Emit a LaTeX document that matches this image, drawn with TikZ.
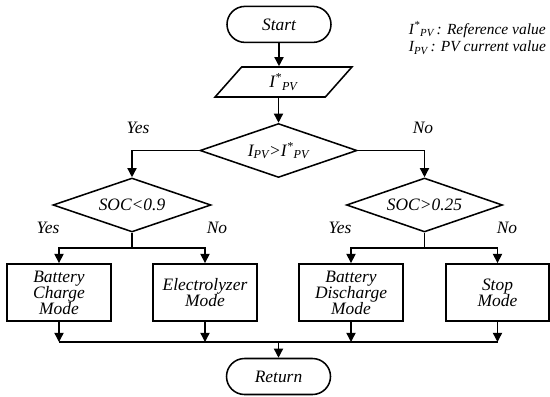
\documentclass[tikz,border=0pt]{standalone}
\usepackage{fontspec}
\setmainfont{Liberation Serif}
\usetikzlibrary{positioning,arrows.meta,shapes.geometric}
\newcommand\ipv{I\textsubscript{PV}}
\newcommand\ipvref{I\textsuperscript{*}\textsubscript{PV}}

\begin{document}
\begin{tikzpicture}[
  font=\itshape\fontsize{12.4}{11.4}\selectfont,
  term/.style={draw,line width=1.1pt,rounded corners=0.45cm,minimum width=2.6cm,minimum height=0.9cm},
  io/.style={draw,line width=1.1pt,trapezium,trapezium left angle=63.4,trapezium right angle=116.6,trapezium stretches=true,minimum width=3.425cm,minimum height=0.75cm,inner sep=1pt},
  dec/.style={draw,line width=1.1pt,diamond,aspect=3,inner sep=0pt,minimum width=#1,minimum height=1.35cm},
  dec/.default=3.95cm,
  mode/.style={draw,line width=1.3pt,minimum width=#1,minimum height=1.425cm,align=center,inner sep=1pt},
  mode/.default=2.6cm,
  wire/.style={line width=1pt},
  lab/.style={inner sep=1pt},
  >={Triangle[length=2.3mm,width=2.3mm]}]
\useasboundingbox (0,0) rectangle (13.75,9.9);
% ---- top: start, input, first test
\node[term] (start) at (6.975,9.29) {Start};
\node[io] (pv) at (7.0875,7.85) {\ipvref};
\node[dec=3.925cm] (cmp) at (6.9625,6.1375) {\ipv>\ipvref};
\node[align=left,anchor=west,font=\itshape\fontsize{11}{12.6}\selectfont] (key) at (10.1,8.95) {\ipvref\,: Reference value\\ \ipv\,: PV current value};
\draw[wire,->] (start.south) -- (start.south |- pv.north);
\draw[wire,->] (pv.south -| cmp.north) -- (cmp.north);
% ---- second tests
\node[dec] (socl) at (3.3,4.775) {SOC<0.9};
\node[dec=3.9cm] (soch) at (10.6125,4.775) {SOC>0.25};
\draw[wire,->] (cmp.west) -| (socl.north);
\draw[wire,->] (cmp.east) -| (soch.north);
\node[lab] (yes0) at (3.45,6.7) {Yes};
\node[lab] (no0) at (10.575,6.7) {No};
% ---- modes
\node[mode] (bcm) at (1.475,2.5875) {Battery\\ Charge\\ Mode};
\node[mode] (elm) at (5.125,2.5875) {Electrolyzer\\ Mode};
\node[mode] (bdm) at (8.775,2.5875) {Battery\\ Discharge\\ Mode};
\node[mode=2.575cm] (stm) at (12.4375,2.5875) {Stop\\ Mode};
\coordinate (bl) at (3.3,3.7);
\coordinate (br) at (10.6125,3.7);
\draw[wire,->] (socl.south) -- (bl) -| (bcm.north);
\draw[wire,->] (bl) -| (elm.north);
\draw[wire,->] (soch.south) -- (br) -| (bdm.north);
\draw[wire,->] (br) -| (stm.north);
\node[lab] (yes1) at (1.2,4.2) {Yes};
\node[lab] (no1) at (5.425,4.2) {No};
\node[lab] (yes2) at (8.5,4.2) {Yes};
\node[lab] (no2) at (12.675,4.2) {No};
% ---- bottom: merge and return
\node[term] (ret) at (6.9625,0.4875) {Return};
\coordinate (mrg) at (6.9625,1.35);
\foreach \m in {bcm,elm,bdm,stm}
  \draw[wire,->] (\m.south) -- (\m.south |- mrg);
\draw[wire] (bcm.south |- mrg) -- (stm.south |- mrg);
\draw[wire,->] (mrg) -- (ret.north);
\end{tikzpicture}
\end{document}
